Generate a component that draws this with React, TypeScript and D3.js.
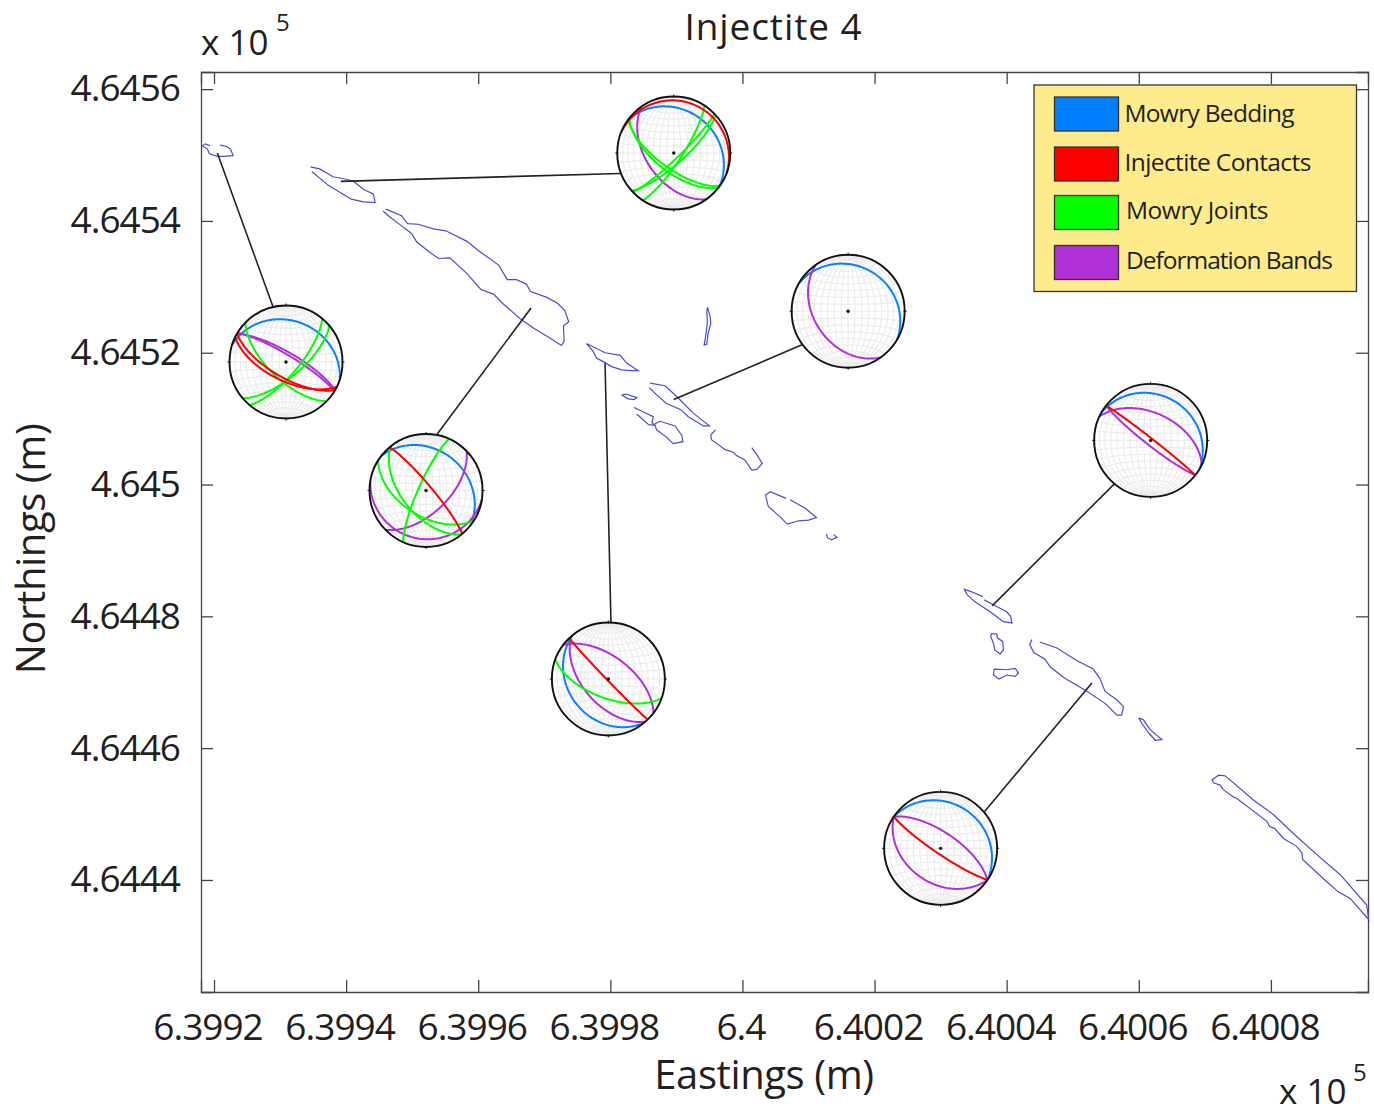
import React, { useEffect, useRef } from 'react'
import * as d3 from 'd3'

type Pt = [number, number]
type Plane = [number, number] // strike, dip (right hand rule)

const W = 1374
const H = 1113
const FONT = '"Open Sans", sans-serif'

// map frame, metres
const E0 = 639920
const N0 = 464440
const xDomain = [639918.03, 640094.7]
const yDomain = [464423.0, 464562.6]
const xTicks = [639920, 639940, 639960, 639980, 640000, 640020, 640040, 640060, 640080]
const yTicks = [464440, 464460, 464480, 464500, 464520, 464540, 464560]

// outcrop traces, metres east / north of E0,N0
const traces: { pts: Pt[]; closed?: boolean }[] = [
  { pts: [[-0.6, 111.4], [-1.3, 111.7], [-1.8, 111.4], [-1.0, 110.9], [-0.7, 110.2], [0.5, 109.8], [1.4, 109.8], [2.9, 109.9], [2.5, 110.9], [1.9, 111.3], [0.9, 111.5]] },
  { pts: [[14.6, 108.2], [16.0, 107.9], [18.0, 106.7], [19.6, 106.4], [21.0, 106.1], [22.6, 104.8], [24.1, 104.1], [24.4, 102.8], [22.6, 102.9], [20.8, 103.3], [19.1, 104.3], [17.3, 105.4], [14.8, 107.5]] },
  { pts: [[26.0, 101.8], [28.4, 100.8], [29.3, 99.6], [30.9, 99.5], [33.2, 98.8], [35.1, 98.5], [38.3, 96.9], [40.3, 95.3], [43.1, 93.3], [44.4, 91.1], [45.8, 91.1], [47.3, 90.4], [47.9, 89.3], [50.4, 88.4], [52.0, 87.5], [53.1, 86.4], [53.7, 84.7], [52.9, 84.1], [53.0, 81.7], [52.6, 81.1], [50.9, 82.2], [48.4, 83.7], [46.3, 85.2], [43.8, 87.4], [42.3, 88.9], [40.4, 89.6], [38.3, 92.0], [35.7, 94.4], [34.0, 94.3], [32.7, 95.2], [30.7, 96.8], [29.9, 98.1], [28.2, 99.4], [26.6, 100.6], [25.6, 101.5]] },
  { pts: [[56.4, 81.4], [59.2, 80.0], [61.5, 79.6], [62.5, 78.4], [64.2, 77.3], [63.2, 77.3], [61.7, 77.4], [60.2, 77.9], [59.2, 78.5], [57.9, 79.2], [57.4, 80.2]], closed: true },
  { pts: [[61.7, 73.6], [62.5, 73.7], [64.0, 73.2], [63.6, 72.9], [62.7, 73.0]], closed: true },
  { pts: [[74.7, 86.9], [75.1, 85.5], [75.2, 84.4], [74.8, 83.0], [74.6, 81.3], [74.2, 81.2], [74.5, 83.0], [74.7, 84.7], [74.6, 86.2]], closed: true },
  { pts: [[66.0, 75.4], [68.3, 75.0], [70.0, 73.4], [72.6, 70.8], [75.0, 68.9], [74.1, 68.9], [71.8, 70.3], [70.6, 71.4], [68.5, 72.3], [67.0, 73.6], [65.9, 74.7]] },
  { pts: [[63.6, 71.7], [65.0, 71.0], [66.5, 70.3], [66.3, 69.4], [66.7, 69.0], [65.8, 69.1], [65.0, 69.8], [64.0, 70.7]] },
  { pts: [[66.7, 69.2], [67.5, 69.6], [69.8, 68.9], [70.8, 67.5], [71.0, 66.5], [69.5, 66.2], [68.5, 67.2], [67.0, 68.3]], closed: true },
  { pts: [[75.9, 68.3], [75.2, 67.5], [75.3, 66.8], [77.4, 65.3], [78.6, 64.9], [79.1, 64.4], [80.4, 63.7], [81.4, 62.2], [82.2, 62.3], [83.0, 63.2], [82.2, 64.5], [81.4, 65.6]] },
  { pts: [[86.6, 57.9], [84.2, 58.9], [83.5, 58.4], [83.9, 56.7], [85.7, 55.1], [86.8, 54.0], [88.5, 54.5], [90.0, 54.6], [91.2, 55.0], [89.5, 56.4], [87.2, 57.7]] },
  { pts: [[92.7, 52.5], [92.9, 51.9], [93.5, 51.6], [94.3, 52.0], [93.8, 52.4]] },
  { pts: [[116.4, 43.0], [114.5, 43.8], [113.6, 44.1], [114.0, 43.3], [115.2, 42.2], [117.5, 40.7], [119.5, 39.2], [120.8, 39.0], [120.6, 40.0], [120.0, 40.7], [118.5, 41.5], [116.6, 42.5]] },
  { pts: [[117.7, 37.4], [117.6, 36.9], [118.0, 35.9], [118.2, 34.9], [119.0, 34.3], [119.5, 34.9], [119.4, 36.2], [118.6, 36.7], [118.5, 37.3]], closed: true },
  { pts: [[118.1, 32.0], [118.0, 31.1], [118.8, 30.5], [120.0, 31.1], [121.3, 30.9], [121.8, 31.4], [121.3, 32.1], [120.0, 31.9]], closed: true },
  { pts: [[123.8, 36.5], [123.5, 35.7], [124.1, 34.5], [125.8, 33.5], [126.6, 32.3], [128.8, 30.6], [131.9, 28.8], [134.9, 26.8], [136.7, 25.0], [137.4, 25.0], [137.7, 26.3], [136.7, 27.3], [134.9, 28.6], [134.1, 30.6], [133.1, 32.0], [130.6, 33.3], [127.6, 35.2], [125.0, 36.1]] },
  { pts: [[140.0, 24.6], [140.7, 24.3], [141.7, 22.8], [143.5, 21.3], [142.5, 21.2], [141.5, 22.3], [140.5, 23.7]], closed: true },
  { pts: [[153.1, 15.8], [152.1, 15.9], [151.1, 15.2], [151.4, 14.7], [152.3, 14.4], [152.8, 13.7], [154.3, 12.6], [154.8, 12.4], [159.4, 8.9], [159.8, 8.1], [160.6, 7.8], [161.9, 6.3], [163.9, 5.1], [164.7, 4.1], [164.8, 3.1], [168.5, -0.3], [170.2, -1.8], [172.0, -2.8], [174.8, -6.0], [174.5, -3.8], [170.5, 0.8], [167.0, 3.8], [163.9, 6.6], [160.4, 9.9], [157.4, 12.1]], closed: true },
]

// leader lines, metres east / north of E0,N0: trace end then net end
const leaders: [Pt, Pt][] = [
  [[19.2, 106.0], [61.5, 107.2]],
  [[0.5, 110.3], [9.0, 86.8]],
  [[48.0, 86.8], [33.6, 67.4]],
  [[59.2, 78.4], [60.1, 38.8]],
  [[69.6, 72.9], [89.0, 81.2]],
  [[117.8, 41.6], [136.3, 60.1]],
  [[132.9, 29.9], [116.6, 10.3]],
]

// stereonet sites, metres east / north of E0,N0
const netSites: Pt[] = [[69.6, 110.3], [96.0, 86.3], [141.8, 66.7], [59.7, 30.5], [110.0, 4.8], [10.9, 78.6], [32.1, 59.1]]
const bedding: Plane[][] = [[[306, 24]], [[300, 20]], [[300, 20]], [[141, 29]], [[304, 20]], [[288, 27]], [[308, 28]]]
const bands: Plane[][] = [[[145, 50]], [[145, 40]], [[295, 50], [128, 83]], [[307, 58], [139, 53]], [[304, 67], [124, 38]], [[300, 76], [301, 80]], [[46, 58], [99, 15]]]
const joints: Plane[][] = [[[33, 78], [46, 82], [48, 75], [126, 68], [128, 63]], [], [], [[110, 62]], [], [[134, 65], [40, 72], [50, 68]], [[204, 79], [122, 53], [141, 55]]]
const contacts: Plane[][] = [[[291, 8]], [], [[308, 87]], [[136, 88]], [[124, 82]], [[120, 68], [116, 63]], [[320, 82]]]

const legendLabels = ['Mowry Bedding', 'Injectite Contacts', 'Mowry Joints', 'Deformation Bands']
const legendColors = ['#0a80ff', '#ff0000', '#00ff00', '#b030d8']

const NET_R = 56.5

// pole of a plane as lon/lat on an equatorial net (centre of the net is lon 0 lat 0)
function poleOf([strike, dip]: Plane): Pt {
  const tr = ((strike + 270) * Math.PI) / 180
  const pl = ((90 - dip) * Math.PI) / 180
  const e = Math.cos(pl) * Math.sin(tr)
  const n = Math.cos(pl) * Math.cos(tr)
  const d = Math.sin(pl)
  return [(Math.atan2(e, d) * 180) / Math.PI, (Math.asin(n) * 180) / Math.PI]
}

export default function App() {
  const ref = useRef<SVGSVGElement>(null)

  useEffect(() => {
    const svg = d3.select(ref.current)
    svg.selectAll('*').remove()

    const x = d3.scaleLinear().domain(xDomain).range([201, 1368])
    const y = d3.scaleLinear().domain(yDomain).range([992, 72])
    const label = (v: d3.NumberValue) => String(+(+v / 1e5).toFixed(4))

    svg.append('rect').attr('width', W).attr('height', H).attr('fill', '#fff')

    // axes, ticks point inwards on all four sides
    const bottom = d3.axisBottom(x).tickValues(xTicks).tickFormat(label).tickSize(-12).tickPadding(21.5)
    const top = d3.axisTop(x).tickValues(xTicks).tickFormat(() => '').tickSize(-12)
    const left = d3.axisLeft(y).tickValues(yTicks).tickFormat(label).tickSize(-12).tickPadding(21)
    const right = d3.axisRight(y).tickValues(yTicks).tickFormat(() => '').tickSize(-12)

    const axes: [any, string][] = [
      [bottom, 'translate(0,992)'],
      [top, 'translate(0,72)'],
      [left, 'translate(201,0)'],
      [right, 'translate(1368,0)'],
    ]
    axes.forEach(([axis, tr]) => {
      const g = svg.append('g').attr('transform', tr).call(axis)
      g.selectAll('path,line').attr('stroke', '#444').attr('stroke-width', 1.3)
      g.selectAll('text')
        .attr('font-family', FONT).attr('font-size', 37).attr('letter-spacing', -1).attr('fill', '#231f20')
    })
    // labels on the x axis sit a little left of their ticks
    svg.selectAll('g').filter((_, i, n) => (n[i] as Element).getAttribute('transform') === 'translate(0,992)')
      .selectAll('text').attr('x', (d: any) => (d === 640000 ? -2 : -6.5))

    // traces
    const line = d3.line<Pt>().x((d) => x(E0 + d[0])).y((d) => y(N0 + d[1]))
    const traceLayer = svg.append('g').attr('fill', 'none').attr('stroke', '#4a4ad8').attr('stroke-width', 1.2)
    traces.forEach((t) => {
      traceLayer.append('path').attr('d', line(t.closed ? [...t.pts, t.pts[0]] : t.pts))
    })

    // leaders
    leaders.forEach(([a, b]) => {
      svg.append('line')
        .attr('x1', x(E0 + a[0])).attr('y1', y(N0 + a[1]))
        .attr('x2', x(E0 + b[0])).attr('y2', y(N0 + b[1]))
        .attr('stroke', '#222').attr('stroke-width', 1.6)
    })

    // stereonets
    const graticule = d3.geoGraticule()
      .stepMinor([10, 10]).stepMajor([90, 360])
      .extentMinor([[-90, -90], [90.01, 90.01]]).extentMajor([[-90, -90], [90.01, 90.01]])
    const circle = d3.geoCircle().radius(90).precision(2)

    netSites.forEach((site, i) => {
      const cx = x(E0 + site[0])
      const cy = y(N0 + site[1])
      const proj = d3.geoAzimuthalEqualArea()
        .rotate([0, 0]).clipAngle(90).precision(0.2)
        .scale(NET_R / Math.SQRT2).translate([cx, cy])
      const path = d3.geoPath(proj)
      const g = svg.append('g')

      g.append('circle').attr('cx', cx).attr('cy', cy).attr('r', NET_R).attr('fill', '#fff')
      g.append('path').attr('d', path(graticule())).attr('fill', 'none').attr('stroke', '#ececec').attr('stroke-width', 1.2)

      const sets: [Plane[], string][] = [
        [bedding[i], legendColors[0]],
        [bands[i], legendColors[3]],
        [joints[i], legendColors[2]],
        [contacts[i], legendColors[1]],
      ]
      sets.forEach(([planes, col]) => {
        planes.forEach((pl) => {
          const ring = circle.center(poleOf(pl))().coordinates[0]
          g.append('path')
            .attr('d', path({ type: 'LineString', coordinates: ring } as any))
            .attr('fill', 'none').attr('stroke', col).attr('stroke-width', 2)
        })
      })

      g.append('circle').attr('cx', cx).attr('cy', cy).attr('r', NET_R).attr('fill', 'none').attr('stroke', '#111').attr('stroke-width', 1.9)
      g.append('circle').attr('cx', cx).attr('cy', cy).attr('r', 1.7).attr('fill', '#111')
      ;[[0, -1], [1, 0], [0, 1], [-1, 0]].forEach(([dx, dy]) => {
        g.append('line')
          .attr('x1', cx + dx * (NET_R - 1)).attr('y1', cy + dy * (NET_R - 1))
          .attr('x2', cx + dx * (NET_R + 2)).attr('y2', cy + dy * (NET_R + 2))
          .attr('stroke', '#111').attr('stroke-width', 1)
      })
    })

    // legend
    const legend = svg.append('g')
    legend.append('rect').attr('x', 1034).attr('y', 85).attr('width', 322.5).attr('height', 206.5)
      .attr('fill', '#feec8c').attr('stroke', '#333').attr('stroke-width', 1.3)
    const swatchY = [97, 147, 195.5, 245.5]
    const textX = [1124.5, 1124.5, 1126, 1126]
    const textY = [122, 171, 219, 269]
    const textSp = [-0.7, -0.6, -0.45, -1]
    legendLabels.forEach((name, i) => {
      legend.append('rect').attr('x', 1054.5).attr('y', swatchY[i]).attr('width', 64).attr('height', 34)
        .attr('fill', i === 0 ? '#0080ff' : legendColors[i]).attr('stroke', '#333').attr('stroke-width', 1.3)
      legend.append('text').attr('x', textX[i]).attr('y', textY[i]).text(name)
        .attr('font-family', FONT).attr('font-size', 24.5).attr('letter-spacing', textSp[i]).attr('fill', '#231f20')
    })

    // titles
    const txt = (s: string, tx: number, ty: number, size: number, anchor = 'start', rot = 0, sp = 0) =>
      svg.append('text').text(s)
        .attr('transform', `translate(${tx},${ty}) rotate(${rot})`)
        .attr('text-anchor', anchor).attr('letter-spacing', sp)
        .attr('font-family', FONT).attr('font-size', size).attr('fill', '#231f20')
    txt('Injectite 4', 773.5, 40, 37, 'middle', 0, 0.9)
    txt('Eastings (m)', 764, 1089, 40, 'middle', 0, -0.4)
    txt('Northings (m)', 45, 549, 40, 'middle', -90, -0.4)
    txt('x 10', 201, 55, 35)
    txt('5', 276, 31, 24)
    txt('x 10', 1279, 1104, 35)
    txt('5', 1353, 1081, 24)
  }, [])

  return (
    <svg ref={ref} width={W} height={H} style={{ position: 'absolute', left: 0, top: 0 }} />
  )
}
